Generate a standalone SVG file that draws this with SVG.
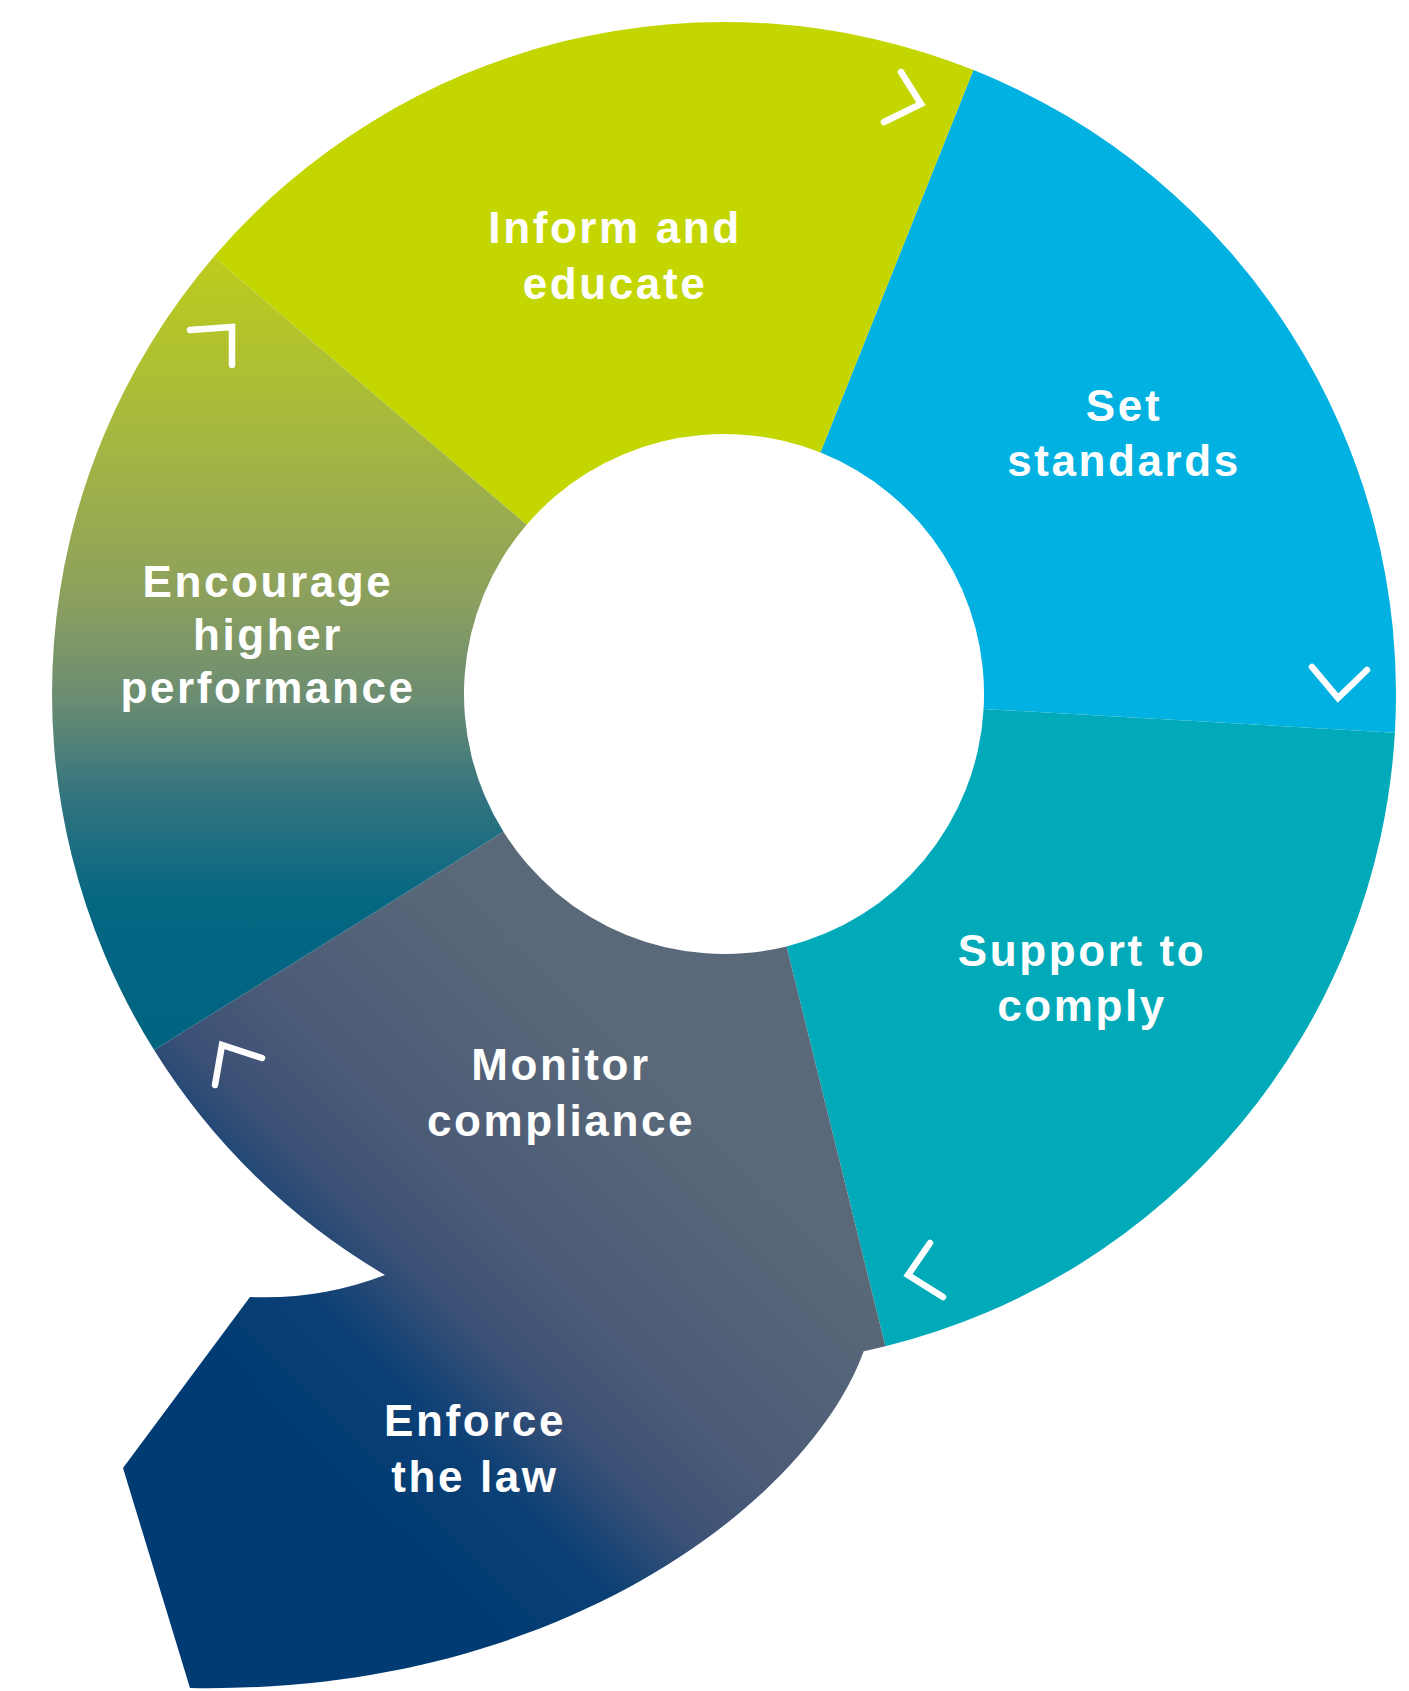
<svg xmlns="http://www.w3.org/2000/svg" width="1409" height="1691" viewBox="0 0 1409 1691">
<style>
.lbl{font-family:"Liberation Sans",Arial,sans-serif;font-weight:700;font-size:44px;fill:#ffffff;text-anchor:middle;letter-spacing:2.6px}
.chev{fill:none;stroke:#ffffff;stroke-width:6.5;stroke-linecap:round;stroke-linejoin:miter}
</style>
<defs>
<linearGradient id="gEnc" gradientUnits="userSpaceOnUse" x1="0" y1="256" x2="0" y2="1050">
<stop offset="0" stop-color="#bccc1c"/>
<stop offset="0.24" stop-color="#a4b642"/>
<stop offset="0.43" stop-color="#8ca05e"/>
<stop offset="0.56" stop-color="#6a8c72"/>
<stop offset="0.68" stop-color="#33747f"/>
<stop offset="0.81" stop-color="#056782"/>
<stop offset="1" stop-color="#006380"/>
</linearGradient>
<linearGradient id="gMon" gradientUnits="userSpaceOnUse" x1="400" y1="1540" x2="760" y2="1180">
<stop offset="0" stop-color="#003b73"/>
<stop offset="0.22" stop-color="#0c4075"/>
<stop offset="0.4" stop-color="#3c5176"/>
<stop offset="0.58" stop-color="#4b5b77"/>
<stop offset="1" stop-color="#5a6979"/>
</linearGradient>
</defs>
<rect width="1409" height="1691" fill="#ffffff"/>
<g id="node-inform">
<path d="M 526.6,524.8 L 213.8,256.7 A 672 672 0 0 1 973.6,70.0 L 820.6,452.6 A 260 260 0 0 0 526.6,524.8 Z" fill="#c4d600"/>
<text class="lbl" x="615" y="243">Inform and</text>
<text class="lbl" x="615" y="299">educate</text>
</g>
<g id="node-set">
<path d="M 820.6,452.6 L 973.6,70.0 A 672 672 0 0 1 1394.9,732.7 L 983.6,709.0 A 260 260 0 0 0 820.6,452.6 Z" fill="#00b1e1"/>
<text class="lbl" x="1124" y="421">Set</text>
<text class="lbl" x="1124" y="476">standards</text>
</g>
<g id="node-support">
<path d="M 983.6,709.0 L 1394.9,732.7 A 672 672 0 0 1 885.4,1346.3 L 786.5,946.4 A 260 260 0 0 0 983.6,709.0 Z" fill="#00aab9"/>
<text class="lbl" x="1082" y="966">Support to</text>
<text class="lbl" x="1082" y="1021">comply</text>
</g>
<g id="node-monitor">
<path d="M 786.5,946.4 L 885.4,1346.3 A 672 672 0 0 1 863.7,1351.3 C 810,1500 560,1695 190,1688 L 123,1468 L 250,1297 Q 320,1300 385,1275 A 672 672 0 0 1 154.1,1050.1 L 503.5,831.8 A 260 260 0 0 0 786.5,946.4 Z" fill="url(#gMon)"/>
<text class="lbl" x="561" y="1080">Monitor</text>
<text class="lbl" x="561" y="1136">compliance</text>
</g>
<g id="node-enforce">
<text class="lbl" x="475" y="1436">Enforce</text>
<text class="lbl" x="475" y="1492">the law</text>
</g>
<g id="node-encourage">
<path d="M 503.5,831.8 L 154.1,1050.1 A 672 672 0 0 1 213.8,256.7 L 526.6,524.8 A 260 260 0 0 0 503.5,831.8 Z" fill="url(#gEnc)"/>
<text class="lbl" x="268" y="597">Encourage</text>
<text class="lbl" x="268" y="650">higher</text>
<text class="lbl" x="268" y="703">performance</text>
</g>
<g id="connectors">
<polyline class="chev" points="901,72 921,104 884,122"/>
<polyline class="chev" points="1312,667 1338,698 1367,670"/>
<polyline class="chev" points="930,1243 908,1275 943,1297"/>
<polyline class="chev" points="215,1085 222,1045 262,1058"/>
<polyline class="chev" points="190,330 232,327 232,365"/>
</g>
</svg>
